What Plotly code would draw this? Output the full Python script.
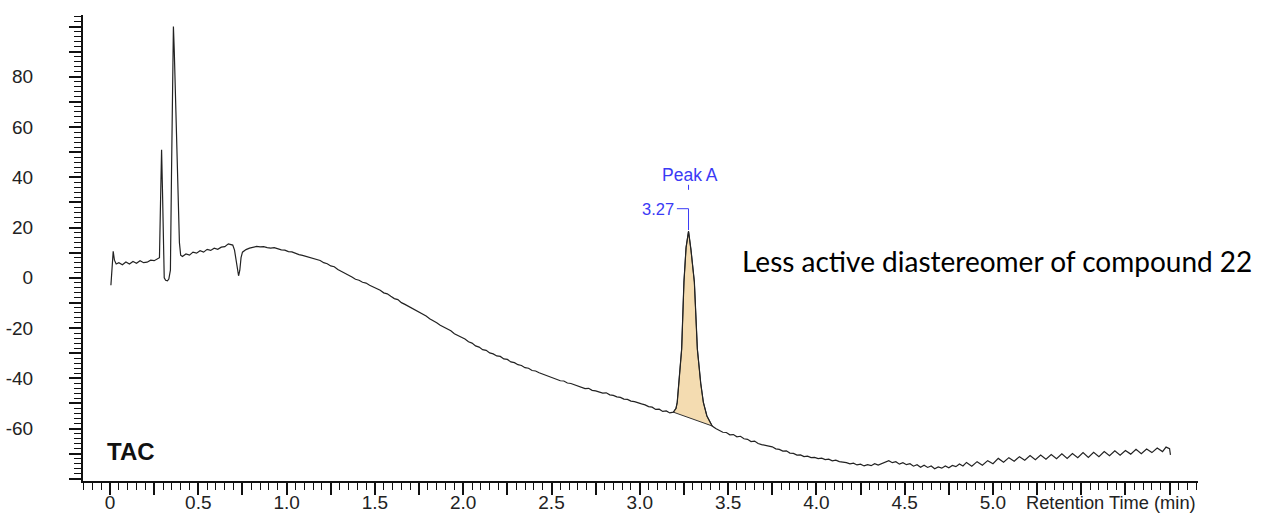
import plotly.graph_objects as go

# ---------------- data ----------------
time_min = [
    0.005, 0.01, 0.018, 0.025, 0.035, 0.05, 0.07, 0.09, 0.11, 0.13, 0.15, 0.17, 0.19, 0.21, 0.23, 0.25, 0.27,
    0.28, 0.286, 0.292, 0.297, 0.302, 0.307, 0.315, 0.325, 0.333,
    0.342, 0.348, 0.354, 0.359, 0.364, 0.370, 0.378, 0.386, 0.393, 0.40, 0.41,
    0.43, 0.45, 0.47, 0.49, 0.51, 0.53, 0.55, 0.57, 0.59, 0.61, 0.63, 0.65, 0.67, 0.685, 0.695,
    0.705, 0.715, 0.722, 0.728, 0.735, 0.742, 0.75, 0.77, 0.79, 0.81, 0.83, 0.85, 0.87, 0.89,
    0.91, 0.93, 0.95, 0.97, 0.99, 1.01, 1.03, 1.05, 1.07, 1.09, 1.11, 1.13, 1.15, 1.17, 1.19,
    1.21, 1.23, 1.25, 1.27, 1.29, 1.31, 1.33, 1.35, 1.37, 1.39, 1.41, 1.43, 1.45, 1.47, 1.49,
    1.51, 1.53, 1.55, 1.57, 1.59, 1.61, 1.63, 1.65, 1.67, 1.69, 1.71, 1.73, 1.75, 1.77, 1.79,
    1.81, 1.83, 1.85, 1.87, 1.89, 1.91, 1.93, 1.95, 1.97, 1.99, 2.01, 2.03, 2.05, 2.07, 2.09,
    2.11, 2.13, 2.15, 2.17, 2.19, 2.21, 2.23, 2.25, 2.27, 2.29, 2.31, 2.33, 2.35, 2.37, 2.39,
    2.41, 2.43, 2.45, 2.47, 2.49, 2.51, 2.53, 2.55, 2.57, 2.59, 2.61, 2.63, 2.65, 2.67, 2.69,
    2.71, 2.73, 2.75, 2.77, 2.79, 2.81, 2.83, 2.85, 2.87, 2.89, 2.91, 2.93, 2.95, 2.97, 2.99,
    3.01, 3.03, 3.05, 3.07, 3.09, 3.11, 3.13, 3.15, 3.17,
    3.19, 3.205, 3.212, 3.225, 3.237, 3.25, 3.262, 3.276, 3.29, 3.309, 3.326, 3.345, 3.36, 3.38, 3.41,
    3.43, 3.45, 3.47, 3.49, 3.51, 3.53, 3.55, 3.57, 3.59, 3.61, 3.63, 3.65, 3.67, 3.69, 3.71,
    3.73, 3.75, 3.77, 3.79, 3.81, 3.83, 3.85, 3.87, 3.89, 3.91, 3.93, 3.95, 3.97, 3.99, 4.01,
    4.03, 4.05, 4.07, 4.09, 4.11, 4.13, 4.15, 4.17, 4.19, 4.21, 4.23, 4.25, 4.27, 4.29, 4.31,
    4.33, 4.35, 4.37, 4.39, 4.41, 4.43, 4.45, 4.47, 4.49, 4.51, 4.53, 4.55, 4.57, 4.59, 4.61,
    4.63, 4.65, 4.67, 4.69, 4.71, 4.73, 4.75, 4.77, 4.79, 4.81, 4.83,
    4.85, 4.88, 4.91, 4.94, 4.97, 5.00, 5.03, 5.06, 5.09, 5.12, 5.15, 5.18, 5.21, 5.24, 5.27,
    5.30, 5.33, 5.36, 5.39, 5.42, 5.45, 5.48, 5.51, 5.54, 5.57, 5.60, 5.63, 5.66, 5.69, 5.72,
    5.75, 5.78, 5.81, 5.84, 5.87, 5.90, 5.93, 5.96, 5.98, 6.00, 6.005,
]
signal = [
    -3.0, 2.0, 10.5, 7.0, 5.5, 6.0, 5.2, 6.3, 5.5, 6.5, 5.8, 6.8, 6.0, 6.2, 7.0, 6.8, 7.8,
    8.0, 30.0, 51.0, 35.0, 10.0, 0.0, -1.0, -1.2, -0.5,
    3.0, 40.0, 80.0, 100.0, 90.0, 72.0, 55.0, 30.0, 14.0, 9.0, 8.5,
    9.5, 9.0, 10.2, 9.8, 10.8, 10.2, 11.3, 10.9, 11.8, 11.3, 12.2, 12.4, 13.5, 13.2, 13.0,
    11.0, 6.0, 2.0, 0.8, 3.0, 8.0, 10.2, 11.2, 11.8, 12.0, 12.5, 12.3, 12.4, 12.0,
    11.8, 12.0, 11.4, 11.1, 11.0, 10.4, 10.3, 9.6, 9.2, 8.9, 8.5, 8.3, 7.6, 7.3, 6.9,
    6.0, 5.6, 4.7, 4.4, 3.3, 2.6, 1.9, 1.0, 0.3, -0.6, -1.0, -1.8, -2.1, -3.0, -3.6,
    -4.5, -5.0, -6.0, -6.4, -7.4, -8.3, -8.7, -9.9, -10.6, -11.4, -12.0, -12.9, -13.5, -14.6, -15.2,
    -16.3, -17.0, -17.9, -18.9, -19.6, -20.6, -21.1, -22.3, -22.9, -23.8, -24.4, -25.5, -26.0, -27.1, -27.6,
    -28.6, -28.9, -29.9, -30.3, -31.1, -31.3, -32.3, -32.5, -33.5, -33.8, -34.6, -34.9, -35.8, -36.0, -36.9,
    -37.1, -37.8, -38.3, -38.9, -39.4, -40.0, -40.3, -41.0, -41.1, -41.9, -42.1, -42.6, -43.1, -43.4, -44.1,
    -44.0, -44.8, -45.0, -45.3, -45.9, -45.8, -46.6, -46.8, -47.4, -47.6, -48.3, -48.4, -49.1, -49.3, -49.9,
    -50.2, -50.6, -51.3, -51.5, -52.4, -52.3, -53.2, -53.0, -53.8,
    -53.5, -52.0, -49.6, -40.0, -28.4, -1.7, 12.0, 18.5, 11.0, -1.7, -28.4, -42.0, -49.6, -55.0, -59.0,
    -60.0, -60.6, -61.5, -61.6, -62.5, -62.4, -63.3, -63.1, -64.1, -64.3, -65.2, -65.0, -66.0, -66.4, -66.8,
    -67.2, -67.3, -68.1, -68.3, -69.0, -68.9, -69.8, -69.9, -70.6, -70.5, -71.2, -71.0, -71.6, -71.5, -72.0,
    -71.8, -72.4, -72.2, -72.9, -72.6, -73.2, -73.4, -73.6, -74.1, -73.8, -74.5, -74.2, -74.9, -74.4, -74.8,
    -74.0, -74.6, -73.9, -73.4, -72.8, -73.6, -73.2, -74.2, -73.6, -74.4, -74.0, -75.0, -74.4, -75.4, -74.6,
    -75.5, -74.9, -76.0, -75.3, -75.8, -74.9, -75.6, -74.7, -75.2, -74.1, -74.9,
    -73.5, -75.0, -73.2, -74.6, -72.8, -74.0, -71.9, -73.4, -71.6, -73.0, -71.2, -72.6, -70.8, -72.4, -70.6,
    -72.2, -70.4, -72.0, -70.1, -71.9, -70.0, -71.6, -69.6, -71.5, -69.5, -71.2, -69.2, -70.8, -68.9, -70.6,
    -68.8, -70.2, -68.3, -70.0, -68.2, -69.6, -67.8, -69.2, -67.4, -68.0, -70.5,
]

# integrated peak (between its baseline start and end)
peak_start_time = 3.19
peak_end_time = 3.41
peak_apex_time = [3.276]
peak_apex_height = [18.5]
peak_rt_label = ["3.27"]
peak_name = ["Peak A"]

x_tick_values = [i * 0.25 for i in range(0, 25)]
x_tick_labels = ["0", "", "0.5", "", "1.0", "", "1.5", "", "2.0", "", "2.5", "", "3.0", "", "3.5", "",
                 "4.0", "", "4.5", "", "5.0", "", "", "", ""]
y_tick_values = list(range(-80, 101, 10))
y_tick_labels = ["", "", "-60", "", "-40", "", "-20", "", "0", "", "20", "", "40", "", "60", "", "80", "", ""]

# ---------------- figure ----------------
i0 = time_min.index(peak_start_time)
i1 = time_min.index(peak_end_time)
peak_x = time_min[i0:i1 + 1] + [time_min[i0]]
peak_y = signal[i0:i1 + 1] + [signal[i0]]

fig = go.Figure()
fig.add_trace(go.Scatter(
    x=peak_x, y=peak_y, mode="lines", fill="toself",
    fillcolor="#F4DCB1", line=dict(color="#333333", width=1), hoverinfo="skip",
))
fig.add_trace(go.Scatter(
    x=time_min, y=signal, mode="lines",
    line=dict(color="#222222", width=1.2), hoverinfo="skip",
))

blue = "#3A3AF5"
ax = peak_apex_time[0]
ay = peak_apex_height[0]
# bracket from retention-time label to apex
fig.add_shape(type="line", xref="x", yref="y", x0=ax, x1=ax, y0=ay + 0.5, y1=ay + 9,
              line=dict(color=blue, width=1))
fig.add_shape(type="line", xref="x", yref="y", x0=ax - 0.066, x1=ax, y0=ay + 9, y1=ay + 9,
              line=dict(color=blue, width=1))
fig.add_shape(type="line", xref="x", yref="y", x0=ax, x1=ax, y0=ay + 16.5, y1=ay + 18.5,
              line=dict(color=blue, width=1))

fig.add_annotation(x=ax - 0.07, y=ay + 9, xref="x", yref="y", text=peak_rt_label[0],
                   showarrow=False, xanchor="right", yanchor="middle",
                   font=dict(family="Liberation Sans, Arial", size=16.5, color=blue))
fig.add_annotation(x=ax + 0.01, y=ay + 22.3, xref="x", yref="y", text=peak_name[0],
                   showarrow=False, xanchor="center", yanchor="middle",
                   font=dict(family="Liberation Sans, Arial", size=17.5, color=blue))

fig.add_annotation(x=0.119, y=-69.3, xref="x", yref="y", text="<b>TAC</b>",
                   showarrow=False, xanchor="center", yanchor="middle",
                   font=dict(family="Liberation Sans, Arial", size=24, color="#111111"))

fig.add_annotation(x=1.0, y=0, xref="paper", yref="paper", text="Retention Time (min)",
                   showarrow=False, xanchor="right", yanchor="top", xshift=0, yshift=-9,
                   font=dict(family="Liberation Sans, Arial", size=18.3, color="#222222"))

fig.add_annotation(x=5.02, y=6.5, xref="x", yref="y",
                   text="Less active diastereomer of compound 22",
                   showarrow=False, xanchor="center", yanchor="middle",
                   font=dict(family="Lato", size=28, color="#000000"))

axis_font = dict(family="Liberation Sans, Arial", size=19, color="#222222")
fig.update_xaxes(
    range=[-0.153, 6.161], showgrid=False, zeroline=False, automargin=False,
    showline=True, linecolor="#111111", linewidth=2,
    tickmode="array", tickvals=x_tick_values, ticktext=x_tick_labels,
    ticks="outside", ticklen=12, tickwidth=1.5, tickcolor="#111111",
    minor=dict(tickmode="linear", tick0=0, dtick=0.05, ticks="outside", ticklen=7,
               tickwidth=1.2, tickcolor="#111111"),
    tickfont=axis_font, ticklabelstandoff=-9,
)
fig.update_yaxes(
    range=[-80.9, 104.6], showgrid=False, zeroline=False, automargin=False,
    showline=True, linecolor="#111111", linewidth=2,
    tickmode="array", tickvals=y_tick_values, ticktext=y_tick_labels,
    ticks="outside", ticklen=12, tickwidth=1.5, tickcolor="#111111",
    minor=dict(tickmode="linear", tick0=0, dtick=2, ticks="outside", ticklen=7,
               tickwidth=1.2, tickcolor="#111111"),
    tickfont=axis_font, ticklabelstandoff=32,
)
fig.update_layout(
    width=1285, height=515,
    margin=dict(l=83, r=87, t=15, b=34),
    paper_bgcolor="white", plot_bgcolor="white",
    showlegend=False,
)

fig.write_html("out.html", config={"displayModeBar": False},
               post_script="document.body.style.margin='0px';")
